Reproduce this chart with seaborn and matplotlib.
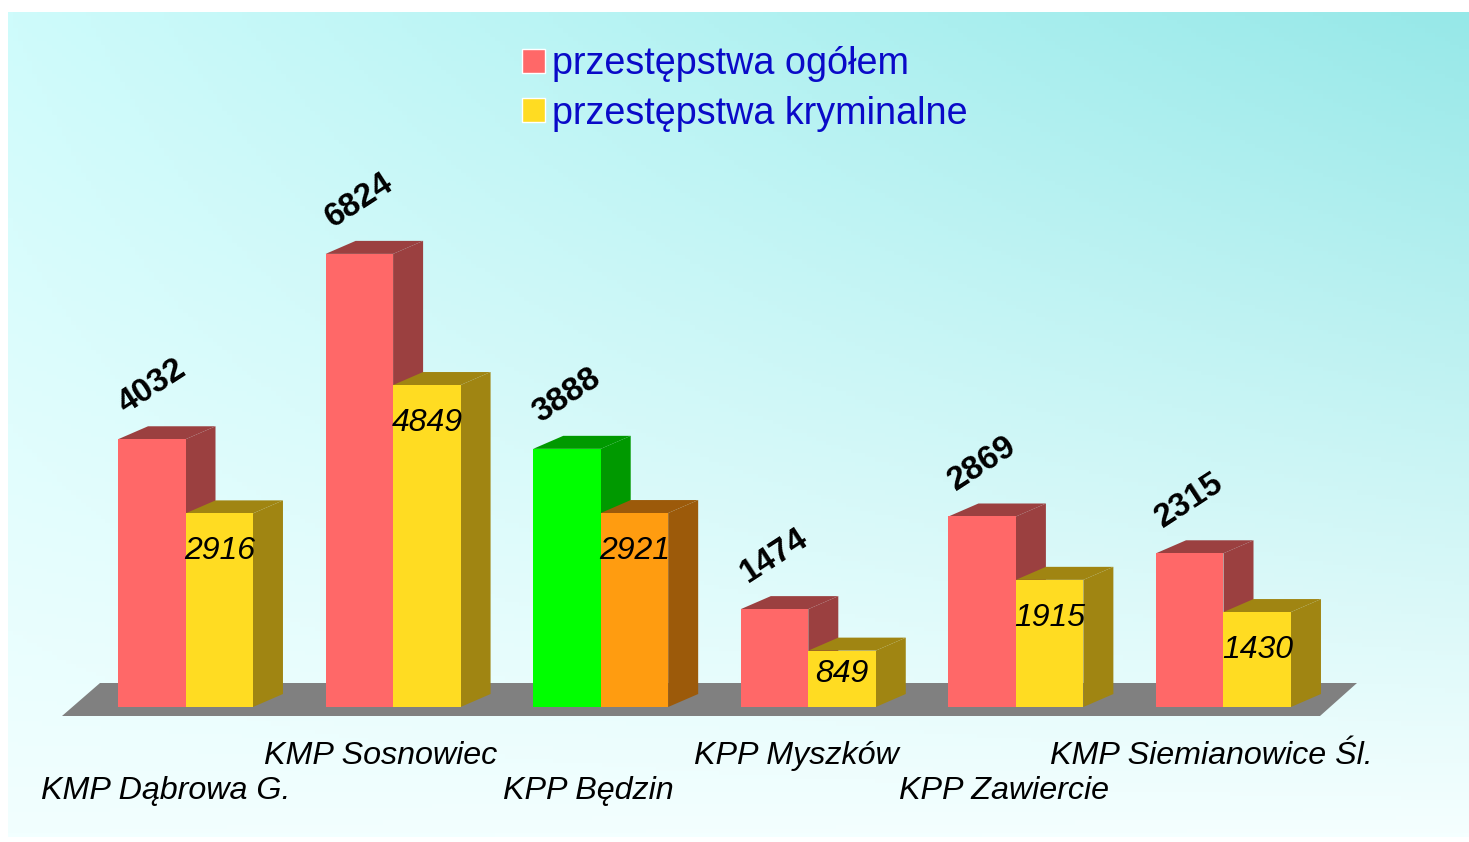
import numpy as np
import pandas as pd
import seaborn as sns
import matplotlib.pyplot as plt
from matplotlib.patches import Polygon, Patch
from matplotlib.transforms import ScaledTranslation

units = ["KMP Dąbrowa G.", "KMP Sosnowiec", "KPP Będzin", "KPP Myszków",
         "KPP Zawiercie", "KMP Siemianowice Śl."]
ogolem = [4032, 6824, 3888, 1474, 2869, 2315]
kryminalne = [2916, 4849, 2921, 849, 1915, 1430]
series = ["przestępstwa ogółem", "przestępstwa kryminalne"]

df = pd.DataFrame({
    "unit": units * 2,
    "value": ogolem + kryminalne,
    "series": [series[0]] * len(units) + [series[1]] * len(units),
})

sns.set_theme(style="white")
plt.rcParams["font.family"] = ["Liberation Sans", "DejaVu Sans"]

W, H = 1469, 842
fig = plt.figure(figsize=(W / 100, H / 100), dpi=100)
fig.patch.set_facecolor("white")

# gradient background
bg = fig.add_axes([8 / W, 5 / H, 1 - 8 / W, (H - 17) / H], zorder=0)
tl = np.array([0xce, 0xfb, 0xfb]) / 255
tr = np.array([0x96, 0xe8, 0xe8]) / 255
bl = np.array([0xf2, 0xff, 0xff]) / 255
br = np.array([0xf5, 0xff, 0xff]) / 255
gx = np.linspace(0, 1, 300)[None, :, None]
gy = np.linspace(0, 1, 200)[:, None, None]
top = tl + (tr - tl) * gx
bot = bl + (br - bl) * gx
grad = top + (bot - top) * gy
bg.imshow(grad, aspect="auto", extent=[0, 1, 0, 1], origin="upper")
bg.set_axis_off()

ymax = 7000
ax_rect = [81.7 / W, (H - 707) / H, 1245.6 / W, ymax * 0.0664 / H]
ax = fig.add_axes(ax_rect, zorder=1)
ax.set_facecolor("none")

front = {series[0]: "#ff6868", series[1]: "#ffdc22"}
sns.barplot(data=df, x="unit", y="value", hue="series", palette=front,
            width=0.65, saturation=1, legend=False, ax=ax)
ax.set_xlim(-0.5, len(units) - 0.5)
ax.set_ylim(0, ymax)

ppx = W * ax_rect[2] / len(units)   # pixels per x unit
ppy = H * ax_rect[3] / ymax         # pixels per y unit
ddx, ddy = 30 / ppx, 13 / ppy

side_cols = ["#9b4040", "#a08512"]
hl = units.index("KPP Będzin")
hl_front = ["#00ff00", "#ff9c10"]
hl_side = ["#009900", "#9c5a0a"]

for s, cont in enumerate(ax.containers):
    for i, bar in enumerate(cont):
        fc = hl_front[s] if i == hl else front[series[s]]
        sc = hl_side[s] if i == hl else side_cols[s]
        bar.set_facecolor(fc)
        bar.set_edgecolor("none")
        bar.set_linewidth(0)
        bar.set_zorder(3 + 2 * s)
        x0, w, h = bar.get_x(), bar.get_width(), bar.get_height()
        x1 = x0 + w
        side = Polygon([(x1, 0), (x1 + ddx, ddy), (x1 + ddx, h + ddy), (x1, h)],
                       closed=True, facecolor=sc, edgecolor="none",
                       zorder=2 + 2 * s, clip_on=False)
        topf = Polygon([(x0, h), (x0 + ddx, h + ddy), (x1 + ddx, h + ddy), (x1, h)],
                       closed=True, facecolor=sc, edgecolor="none",
                       zorder=2 + 2 * s, clip_on=False)
        ax.add_patch(side)
        ax.add_patch(topf)
        xc = x0 + w / 2
        if s == 0:
            ax.text(xc, h + 53 / ppy, f"{int(h)}", rotation=33, ha="center",
                    va="center", rotation_mode="anchor", fontsize=24,
                    fontweight="bold", color="black", zorder=10)
        else:
            ax.text(xc, h - min(38 / ppy, 0.42 * h), f"{int(h)}", ha="center",
                    va="center", fontsize=23, fontstyle="italic",
                    color="black", zorder=10)

# grey floor
def px2x(p):
    return (p - 81.7) / ppx - 0.5

floor = Polygon([(px2x(62), -9 / ppy), (px2x(1320), -9 / ppy),
                 (px2x(1357), 24 / ppy), (px2x(100), 24 / ppy)],
                closed=True, facecolor="#808080", edgecolor="none",
                zorder=1, clip_on=False)
ax.add_patch(floor)

for sp in ax.spines.values():
    sp.set_visible(False)
ax.set_yticks([])
ax.set_xlabel("")
ax.set_ylabel("")
ax.tick_params(axis="x", length=0, pad=24.5, labelsize=23.2)
ax.set_xticks(range(len(units)))
ax.set_xticklabels(units, fontstyle="italic", color="black")
for i, lab in enumerate(ax.get_xticklabels()):
    dy = -35 / 100 if i % 2 == 0 else 0
    dx = -20 / 100 if i == 0 else -12 / 100
    lab.set_transform(lab.get_transform() +
                      ScaledTranslation(dx, dy, fig.dpi_scale_trans))

handles = [Patch(facecolor=front[series[0]]), Patch(facecolor=front[series[1]])]
leg = fig.legend(handles, series, loc="upper left",
                 bbox_to_anchor=(522 / W, 1 - 46 / H), frameon=False,
                 fontsize=27.2, handlelength=0.6, handleheight=0.6,
                 handletextpad=0.2, labelspacing=0.36, borderpad=0,
                 borderaxespad=0)
for t in leg.get_texts():
    t.set_color("#0a0ac8")

fig.savefig("out.png", dpi=100)
